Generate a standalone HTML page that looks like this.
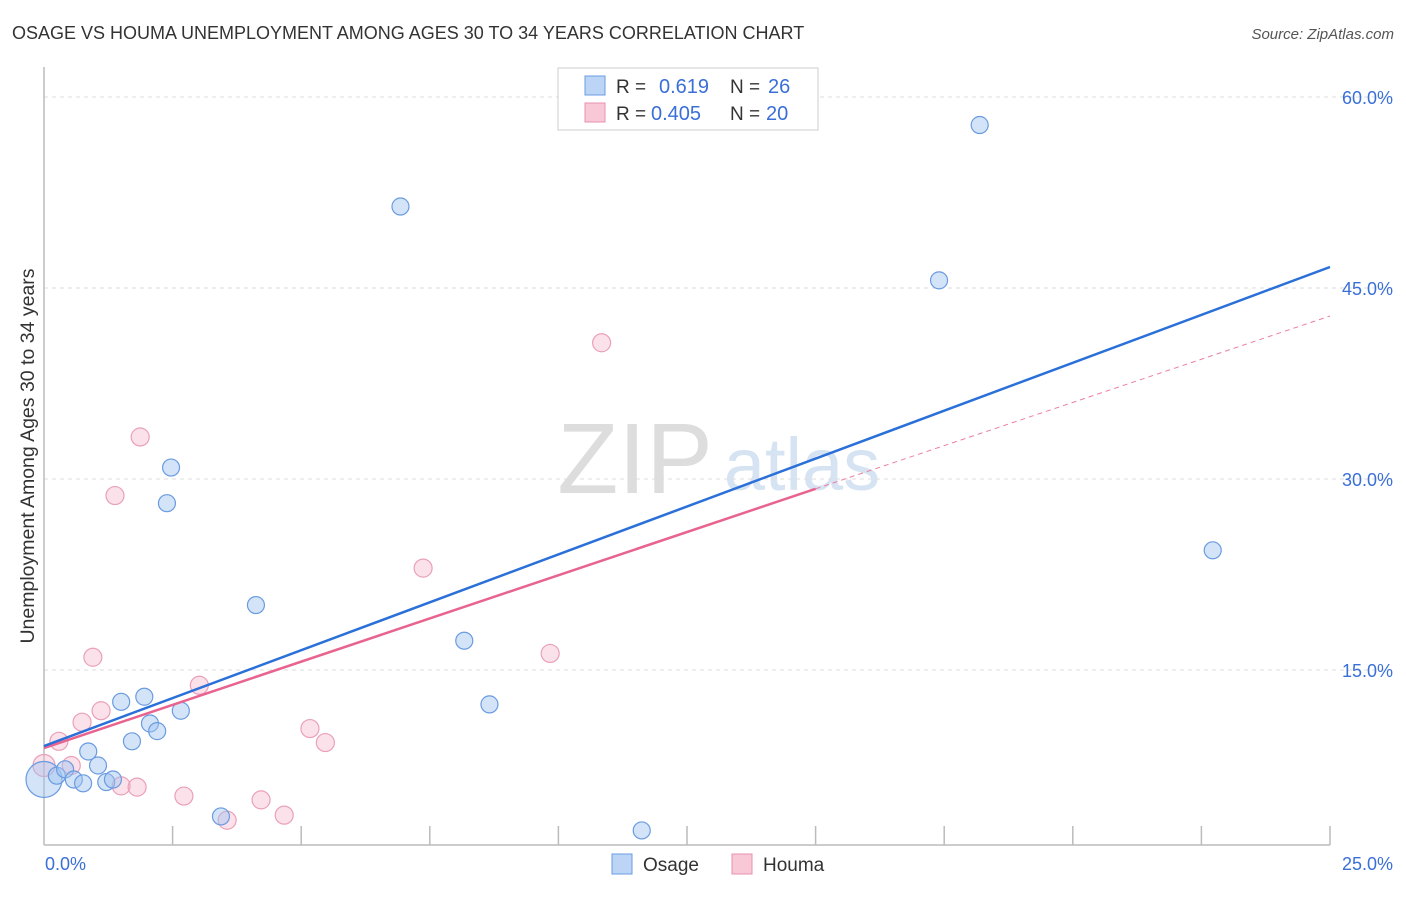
<!DOCTYPE html>
<html><head><meta charset="utf-8"><style>
body{margin:0;background:#fff;font-family:"Liberation Sans",sans-serif}
svg text{font-family:"Liberation Sans",sans-serif}
</style></head><body>
<svg id="c" width="1406" height="892">
<text x="12" y="39" font-size="18" fill="#333">OSAGE VS HOUMA UNEMPLOYMENT AMONG AGES 30 TO 34 YEARS CORRELATION CHART</text>
<text x="1394" y="39" font-size="15" fill="#555" font-style="italic" text-anchor="end">Source: ZipAtlas.com</text>
<text x="635" y="493" font-size="100" fill="#ddd" font-family="Liberation Serif" text-anchor="middle">ZIP</text>
<text x="802" y="490" font-size="74" fill="#d6e3f3" text-anchor="middle">atlas</text>
<g id="grid"></g>
<line x1="44" y1="67" x2="44" y2="845" stroke="#bbb" stroke-width="1.5"/>
<line x1="44" y1="845" x2="1330" y2="845" stroke="#bbb" stroke-width="1.5"/>
<g id="ticks"></g>
<g id="pts"></g>
<g id="lines"></g>
<text transform="translate(34,456) rotate(-90)" font-size="19.5" fill="#333" text-anchor="middle">Unemployment Among Ages 30 to 34 years</text>
<text x="45" y="870" font-size="18" fill="#3a6fd8">0.0%</text>
<text x="1393" y="870" font-size="18" fill="#3a6fd8" text-anchor="end">25.0%</text>
<g>
<rect x="558" y="68" width="260" height="62" fill="#fff" stroke="#ccc"/>
<rect x="585" y="76" width="20" height="19" fill="#bcd4f5" stroke="#6a9be0"/>
<rect x="585" y="103" width="20" height="19" fill="#f8c8d6" stroke="#e890ae"/>
<text x="616" y="93" font-size="19" fill="#333">R = </text><text x="659" y="93" font-size="20" fill="#3a6fd8">0.619</text>
<text x="730" y="93" font-size="19" fill="#333">N = </text><text x="768" y="93" font-size="20" fill="#3a6fd8">26</text>
<text x="616" y="120" font-size="19" fill="#333">R = </text><text x="651" y="120" font-size="20" fill="#3a6fd8">0.405</text>
<text x="730" y="120" font-size="19" fill="#333">N = </text><text x="766" y="120" font-size="20" fill="#3a6fd8">20</text>
</g>
<g><rect x="612" y="854" width="20" height="20" fill="#bcd4f5" stroke="#6a9be0"/><text x="643" y="871" font-size="19" fill="#333">Osage</text></g>
<g><rect x="732" y="854" width="20" height="20" fill="#f8c8d6" stroke="#e890ae"/><text x="763" y="871" font-size="19" fill="#333">Houma</text></g>
</svg>
<script>
const yTicks=[15,30,45,60];
const xTicks=[2.5,5,7.5,10,12.5,15,17.5,20,22.5,25];
const osageX=[0,0.25,0.41,0.58,0.76,0.86,1.05,1.21,1.34,1.5,1.71,1.95,2.06,2.2,2.39,2.47,2.66,3.44,4.12,6.93,8.17,8.66,11.62,17.4,18.19,22.72];
const osageY=[6.4,6.7,7.2,6.4,6.1,8.6,7.5,6.2,6.4,12.5,9.4,12.9,10.8,10.2,28.1,30.9,11.8,3.5,20.1,51.4,17.3,12.3,2.4,45.6,57.8,24.4];
const houmaX=[0,0.29,0.53,0.74,0.95,1.11,1.38,1.5,1.81,1.87,2.72,3.02,3.56,4.22,4.67,5.17,5.47,7.37,9.84,10.84];
const houmaY=[7.5,9.4,7.5,10.9,16.0,11.8,28.7,5.9,5.8,33.3,5.1,13.8,3.2,4.8,3.6,10.4,9.3,23.0,16.3,40.7];
const osageLine=[9.03,46.65];
const houmaLine=[8.87,42.8];
const houmaSolidEnd=15.0;
const X=v=>44+v/25*1286, Y=v=>861-v/15*191;
const NS='http://www.w3.org/2000/svg';
function mk(t,a,p){const e=document.createElementNS(NS,t);for(const k in a)e.setAttribute(k,a[k]);document.getElementById(p).appendChild(e);return e;}
yTicks.forEach(t=>{
 const l=mk('line',{x1:44,x2:1393,y1:Y(t),y2:Y(t),stroke:'#ddd','stroke-dasharray':'4,4'},'grid');
 
 
 const tx=mk('text',{x:1393,y:Y(t)+7,'font-size':18,fill:'#3a6fd8','text-anchor':'end'},'grid');
 tx.textContent=t.toFixed(1)+'%';
 
 
});
xTicks.forEach(t=>{
 const l=mk('line',{x1:X(t),x2:X(t),y1:826,y2:845,stroke:'#bbb','stroke-width':1.5},'ticks');
 
 
});
houmaX.forEach((x,i)=>{
 const c=mk('circle',{cx:X(x),cy:Y(houmaY[i]),r:i==0?11:9,fill:'rgba(245,180,200,0.4)',stroke:'#eaa0ba','stroke-width':1.2},'pts');
 
 
});
osageX.forEach((x,i)=>{
 const c=mk('circle',{cx:X(x),cy:Y(osageY[i]),r:i==0?18:8.5,fill:'rgba(160,195,240,0.45)',stroke:'#6a9be0','stroke-width':1.2},'pts');
 
 
});
const hAt=v=>houmaLine[0]+(houmaLine[1]-houmaLine[0])*v/25;
let l=mk('line',{x1:X(houmaSolidEnd),y1:Y(hAt(houmaSolidEnd)),x2:X(25),y2:Y(houmaLine[1]),stroke:'#ec7fa0','stroke-width':1,'stroke-dasharray':'5,4'},'lines');


l=mk('line',{x1:X(0),y1:Y(houmaLine[0]),x2:X(houmaSolidEnd),y2:Y(hAt(houmaSolidEnd)),stroke:'#e8648f','stroke-width':2.5},'lines');


l=mk('line',{x1:X(0),y1:Y(osageLine[0]),x2:X(25),y2:Y(osageLine[1]),stroke:'#2a70d8','stroke-width':2.5},'lines');


</script>
</body></html>
